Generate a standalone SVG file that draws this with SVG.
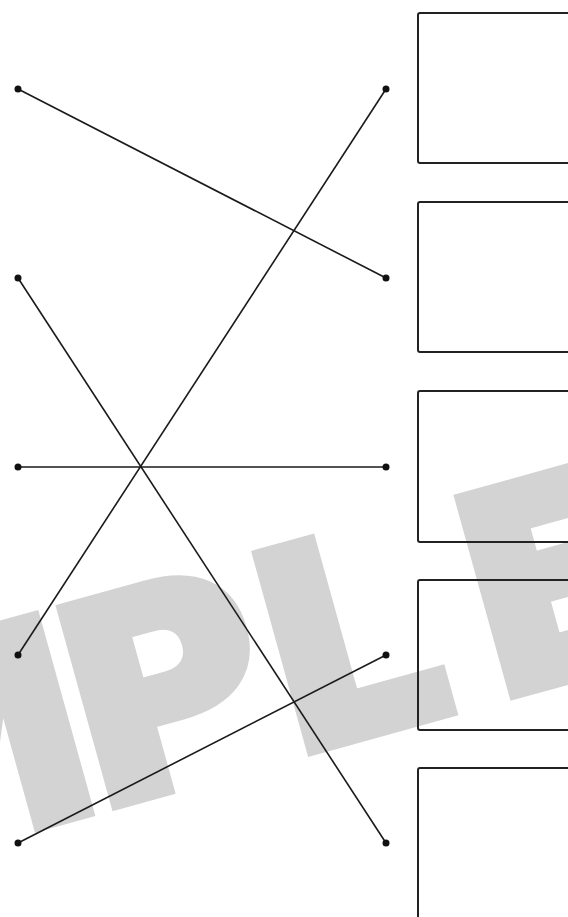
<svg xmlns="http://www.w3.org/2000/svg" width="568" height="917" viewBox="0 0 568 917">
  <style>
    .wm { font-family: "DejaVu Sans", "Liberation Sans", sans-serif; font-weight: bold; font-size: 274px; fill: #d3d3d3; stroke: #d3d3d3; stroke-width: 14; stroke-linejoin: miter; }
    .box { fill: none; stroke: #222; stroke-width: 2; }
    .dot { fill: #111; }
    .conn { stroke: #1a1a1a; stroke-width: 1.6; fill: none; }
  </style>
  <rect width="568" height="917" fill="#ffffff"/>
  <g id="watermark">
    <text class="wm" transform="translate(308,757) rotate(-15.5)" x="-475 -221 -18 192" y="-7">MPLE</text>
  </g>
  <g id="box-1"><rect class="box" x="418" y="13" width="170" height="150" rx="2"/></g>
  <g id="box-2"><rect class="box" x="418" y="202" width="170" height="150" rx="2"/></g>
  <g id="box-3"><rect class="box" x="418" y="391" width="170" height="151" rx="2"/></g>
  <g id="box-4"><rect class="box" x="418" y="580" width="170" height="150" rx="2"/></g>
  <g id="box-5"><rect class="box" x="418" y="768" width="170" height="160" rx="2"/></g>
  <g id="connectors">
    <line class="conn" x1="18" y1="89" x2="386" y2="278"/>
    <line class="conn" x1="18" y1="278" x2="386" y2="843"/>
    <line class="conn" x1="18" y1="467" x2="386" y2="467"/>
    <line class="conn" x1="18" y1="655" x2="386" y2="89"/>
    <line class="conn" x1="18" y1="843" x2="386" y2="655"/>
  </g>
  <g id="left-1"><circle class="dot" cx="18" cy="89" r="3.5"/></g>
  <g id="left-2"><circle class="dot" cx="18" cy="278" r="3.5"/></g>
  <g id="left-3"><circle class="dot" cx="18" cy="467" r="3.5"/></g>
  <g id="left-4"><circle class="dot" cx="18" cy="655" r="3.5"/></g>
  <g id="left-5"><circle class="dot" cx="18" cy="843" r="3.5"/></g>
  <g id="right-1"><circle class="dot" cx="386" cy="89" r="3.5"/></g>
  <g id="right-2"><circle class="dot" cx="386" cy="278" r="3.5"/></g>
  <g id="right-3"><circle class="dot" cx="386" cy="467" r="3.5"/></g>
  <g id="right-4"><circle class="dot" cx="386" cy="655" r="3.5"/></g>
  <g id="right-5"><circle class="dot" cx="386" cy="843" r="3.5"/></g>
</svg>
